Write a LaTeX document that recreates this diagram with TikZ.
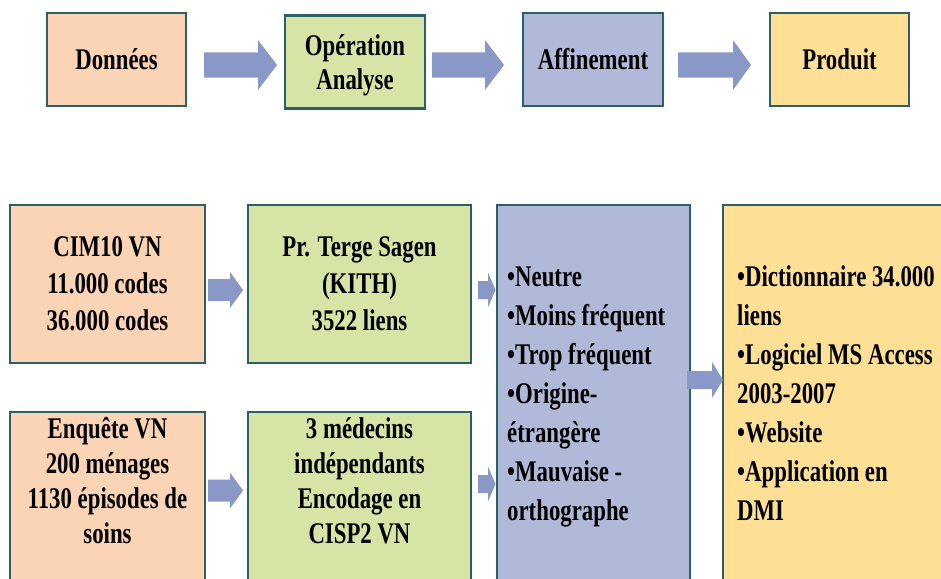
\documentclass[tikz,border=0pt]{standalone}
\usepackage{fontspec}
\setmainfont{Liberation Serif}
\definecolor{peach}{RGB}{251,212,182}
\definecolor{leaf}{RGB}{214,228,166}
\definecolor{lav}{RGB}{177,185,216}
\definecolor{sand}{RGB}{253,224,150}
\definecolor{edge}{RGB}{45,95,102}
\definecolor{arrowfill}{RGB}{138,152,200}
\newcommand{\myarrow}[6]{\fill[arrowfill] (#1,#4-#5) -- (#2,#4-#5) -- (#2,#4-#6) -- (#3,#4) -- (#2,#4+#6) -- (#2,#4+#5) -- (#1,#4+#5) -- cycle;}
\newcommand{\sq}[1]{\scalebox{0.76}[1]{#1}}
\tikzset{
  box/.style={draw=edge, line width=2.8pt, inner sep=0pt, align=center, font=\fontsize{30}{37}\selectfont\bfseries},
  txt/.style={inner sep=0pt, font=\fontsize{30}{35}\selectfont\bfseries},
  rtxt/.style={inner sep=0pt, align=left, anchor=north west, font=\fontsize{30}{39}\selectfont\bfseries}
}
\begin{document}
\begin{tikzpicture}[x=1pt,y=-1pt]
\useasboundingbox (0,0) rectangle (941,578);
\fill[white] (0,0) rectangle (941,578);
\clip (0,0) rectangle (941,578);
% top row
\node[box, fill=peach, minimum width=139pt, minimum height=93pt] (d) at (116.5,59.5) {\sq{Données}};
\node[box, fill=leaf, minimum width=140pt, minimum height=93pt, text depth=0pt, font=\fontsize{30}{34}\selectfont\bfseries] (o) at (355,62) {\sq{Opération}\\\sq{Analyse}};
\node[box, fill=lav, minimum width=140pt, minimum height=93pt] (a) at (593,59.5) {\sq{Affinement}};
\node[box, fill=sand, minimum width=139pt, minimum height=93pt] (p) at (839.5,59.5) {\sq{Produit}};
\myarrow{204}{258}{277}{65}{12.5}{25}
\myarrow{432}{485}{504}{65}{12.5}{25}
\myarrow{678}{733}{751}{65}{12.5}{25}
% bottom row
\node[box, fill=peach, minimum width=195pt, minimum height=158pt] (cim) at (107.5,284) {\sq{CIM10 VN}\\\sq{11.000 codes}\\\sq{36.000 codes}};
\node[box, fill=leaf, minimum width=223pt, minimum height=158pt] (kith) at (359.5,284) {\sq{Pr. Terge Sagen}\\\sq{(KITH)}\\\sq{3522 liens}};
\node[box, fill=peach, minimum width=195pt, minimum height=208pt] (enq) at (107.5,516) {};
\node[box, fill=leaf, minimum width=223pt, minimum height=208pt] (med) at (359.5,516) {};
\node[box, fill=lav, minimum width=193pt, minimum height=415pt] (aff) at (593.5,412.5) {};
\node[box, fill=sand, minimum width=237pt, minimum height=415pt] (prod) at (841.5,412.5) {};
\node[txt, align=center, anchor=north] (enqt) at (107.5,413.5) {\strut\sq{Enquête VN}\\\sq{200 ménages}\\\sq{1130 épisodes de}\\\sq{soins}};
\node[txt, align=center, anchor=north] (medt) at (359.5,413.5) {\strut\sq{3 médecins}\\\sq{indépendants}\\\sq{Encodage en}\\\sq{CISP2 VN}};
\node[rtxt] (afft) at (507,259) {\strut\sq{•Neutre}\\\sq{•Moins fréquent}\\\sq{•Trop fréquent}\\\sq{•Origine-}\\\sq{étrangère}\\\sq{•Mauvaise -}\\\sq{orthographe}};
\node[rtxt] (prodt) at (737,259) {\strut\sq{•Dictionnaire 34.000}\\\sq{liens}\\\sq{•Logiciel MS Access}\\\sq{2003-2007}\\\sq{•Website}\\\sq{•Application en}\\\sq{DMI}};
\myarrow{208}{230}{243}{290}{11}{18}
\myarrow{208}{230}{243}{490.5}{11}{18}
\myarrow{478}{488}{495.5}{290}{9}{17.5}
\myarrow{478}{488}{495.5}{484}{9}{17.5}
\myarrow{687}{712}{723}{380}{9}{18}
\end{tikzpicture}
\end{document}
